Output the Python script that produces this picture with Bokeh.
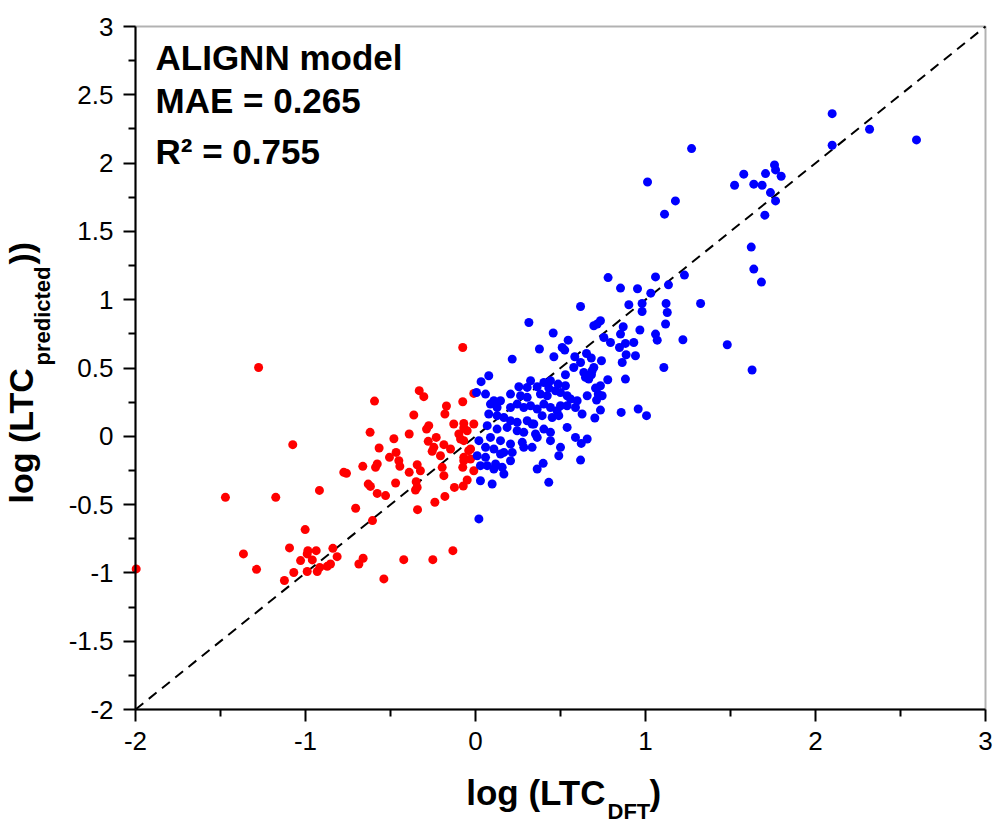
import math
from bokeh.plotting import figure
from bokeh.models import FixedTicker, Label, BoxAnnotation
from bokeh.embed import file_html
from bokeh.resources import INLINE

# ---------------- data ----------------
red_x = [-0.075, -1.276, -0.594, -0.331, -0.304, -0.075, -0.171, -0.18, -0.363, -0.128,
         -0.069, -0.01, -0.288, -0.275, -0.62, -0.39, -0.48, -1.075, -0.231, -0.278,
         -0.245, -0.255, -0.186, -0.147, -0.206, -0.098, -0.088, -0.049, -0.069, -0.029,
         -0.567, -0.467, -0.506, -0.451, -0.445, -0.343, -0.324, -0.39, -0.663, -0.578,
         -0.588, -0.775, -0.759, -0.196, -0.186, -0.075, -0.069, -0.029, -0.01, -0.049,
         -0.631, -0.618, -0.47, -0.349, -0.343, -0.353, -0.072, -0.124, -0.578, -0.529,
         -0.918, -0.18, -0.239, -1.471, -1.175, -0.705, -0.341, -0.606, -1.002, -1.094,
         -1.365, -0.986, -0.937, -1.029, -0.96, -0.99, -0.839, -0.814, -0.853, -0.872,
         -0.916, -0.931, -0.99, -1.069, -1.288, -1.996, -1.124, -0.686, -0.661, -0.422,
         -0.251, -0.133, -0.539, -0.01, -0.069, -0.04, -0.069]
red_y = [0.65, 0.504, 0.258, 0.334, 0.29, 0.253, 0.222, 0.163, 0.156, 0.09,
         0.094, 0.09, 0.053, 0.078, 0.029, 0.017, -0.018, -0.061, -0.008, -0.037,
         -0.081, -0.11, -0.061, -0.093, -0.142, 0.017, -0.02, 0.041, 0.061, -0.093,
         -0.086, -0.118, -0.154, -0.179, -0.22, -0.208, -0.252, -0.264, -0.22, -0.203,
         -0.227, -0.264, -0.271, -0.227, -0.288, -0.227, -0.179, -0.166, -0.252, -0.32,
         -0.35, -0.367, -0.342, -0.332, -0.374, -0.393, -0.364, -0.374, -0.418, -0.434,
         -0.396, -0.44, -0.483, -0.447, -0.447, -0.527, -0.537, -0.617, -0.683, -0.817,
         -0.861, -0.837, -0.837, -0.91, -0.905, -0.861, -0.82, -0.881, -0.935, -0.952,
         -0.96, -0.99, -0.99, -0.997, -0.974, -0.971, -1.056, -0.935, -0.893, -0.903,
         -0.903, -0.837, -1.044, 0.314, -0.032, -0.105, -0.154]

blue_x = [0.618, 0.902, 0.98, 1.121, 1.324, 0.98, 1.128, 0.314, 0.696, 0.735,
          0.716, 0.869, 0.853, 0.967, 1.118, 1.059, 1.069, 1.22, 0.457, 0.545,
          0.376, 0.755, 0.794, 0.847, 0.882, 0.931, 0.51, 0.525, 0.216, 0.461,
          0.584, 0.653, 0.618, 0.681, 0.741, 0.696, 0.686, 0.886, 0.941, 0.863,
          1.108, 0.578, 0.637, 0.647, 0.666, 0.682, 0.529, 0.078, 0.033, 0.324,
          0.402, 0.441, 0.778, 0.882, 0.706, 0.735, 0.722, 0.745, 0.255, 0.206,
          0.304, 0.363, 0.431, 0.486, 0.529, 0.006, 0.059, 0.265, 0.304, 0.382,
          0.422, 0.471, 0.5, 0.539, 0.559, 0.598, 0.539, 0.588, 0.657, 0.712,
          0.088, 0.127, 0.108, 0.147, 0.206, 0.245, 0.284, 0.324, 0.363, 0.402,
          0.441, 0.48, 0.5, 0.735, 0.857, 0.957, 1.006, 0.627, 0.702, 0.078,
          0.127, 0.167, 0.206, 0.245, 0.304, 0.333, 0.392, 0.451, 0.49, 0.069,
          0.127, 0.186, 0.245, 0.284, 0.343, 0.402, 0.539, 0.02, 0.088, 0.147,
          0.206, 0.275, 0.353, 0.363, 0.441, 0.441, 0.588, 0.657, 0.622, 0.059,
          0.108, 0.167, 0.216, 0.284, 0.333, 0.5, 0.01, 0.059, 0.147, 0.206,
          0.49, 0.618, 0.029, 0.069, 0.118, 0.157, 0.167, 0.108, 0.363, 0.398,
          0.029, 0.098, 0.431, 0.02,
          2.098, 2.318, 2.594, 2.098, 1.271, 1.759, 1.765, 1.706, 1.798, 1.578,
          1.637, 1.686, 1.524, 1.735, 1.765, 1.702, 1.012, 1.176, 1.112, 1.622,
          1.637, 1.682, 0.78, 1.059, 1.229, 0.853, 0.953, 1.135, 1.031, 1.481,
          1.627]
blue_y = [0.95, 0.963, 0.972, 0.972, 0.972, 0.914, 0.906, 0.833, 0.809, 0.846,
          0.822, 0.802, 0.748, 0.778, 0.822, 0.748, 0.704, 0.707, 0.756, 0.704,
          0.639, 0.723, 0.687, 0.65, 0.68, 0.687, 0.65, 0.631, 0.565, 0.582,
          0.582, 0.606, 0.54, 0.573, 0.553, 0.504, 0.48, 0.597, 0.59, 0.54,
          0.504, 0.504, 0.467, 0.431, 0.419, 0.451, 0.451, 0.443, 0.4, 0.407,
          0.394, 0.407, 0.414, 0.419, 0.353, 0.37, 0.309, 0.297, 0.363, 0.309,
          0.358, 0.363, 0.353, 0.382, 0.37, 0.321, 0.309, 0.297, 0.285, 0.309,
          0.297, 0.333, 0.321, 0.297, 0.273, 0.26, 0.224, 0.211, 0.297, 0.265,
          0.236, 0.211, 0.26, 0.26, 0.211, 0.236, 0.211, 0.224, 0.2, 0.236,
          0.211, 0.187, 0.224, 0.192, 0.175, 0.2, 0.151, 0.163, 0.134, 0.163,
          0.151, 0.138, 0.114, 0.102, 0.114, 0.09, 0.151, 0.138, 0.151, 0.078,
          0.053, 0.065, 0.041, 0.029, 0.09, 0.053, 0.065, -0.032, -0.008, -0.032,
          -0.056, -0.044, 0.017, -0.008, 0.029, -0.032, -0.008, -0.02, -0.052, -0.081,
          -0.093, -0.118, -0.118, -0.081, -0.081, -0.081, -0.142, -0.154, -0.13, -0.179,
          -0.142, -0.174, -0.215, -0.215, -0.203, -0.227, -0.276, -0.239, -0.239, -0.198,
          -0.325, -0.349, -0.337, -0.605,
          2.362, 2.248, 2.17, 2.131, 2.106, 1.987, 1.95, 1.923, 1.904, 1.919,
          1.846, 1.838, 1.838, 1.784, 1.723, 1.619, 1.862, 1.723, 1.626, 1.385,
          1.224, 1.129, 1.162, 1.167, 1.18, 1.085, 1.08, 1.109, 1.048, 0.67,
          0.485]

diag_x = [-2, 3]
diag_y = [-2, 3]

x_ticks = [-2, -1, 0, 1, 2, 3]
x_tick_labels = ["-2", "-1", "0", "1", "2", "3"]
x_minor = [-1.5, -0.5, 0.5, 1.5, 2.5]
y_ticks = [-2, -1.5, -1, -0.5, 0, 0.5, 1, 1.5, 2, 2.5, 3]
y_tick_labels = ["-2", "-1.5", "-1", "-0.5", "0", "0.5", "1", "1.5", "2", "2.5", "3"]
y_minor = [-1.75, -1.25, -0.75, -0.25, 0.25, 0.75, 1.25, 1.75, 2.25, 2.75]

info_lines = ["ALIGNN model", "MAE = 0.265", "R\u00b2 = 0.755"]

FONT = "Liberation Sans"

# The frame fills the whole canvas; the axes are drawn at fixed data locations
# so that the axis titles (Labels) lie inside the frame and are not clipped.
W, H = 996, 823
X0_PX, X1_PX = 135.0, 985.0   # screen x of data -2 and 3
Y0_PX, Y1_PX = 709.0, 26.0    # screen y of data -2 and 3
sx = (X1_PX - X0_PX) / 5.0
sy = (Y0_PX - Y1_PX) / 5.0
x_lo = -2 - X0_PX / sx
x_hi = 3 + (W - X1_PX) / sx
y_hi = 3 + Y1_PX / sy
y_lo = -2 - (H - Y0_PX) / sy


def dx(px):
    return -2 + (px - X0_PX) / sx


def dy(py):
    return 3 - (py - Y1_PX) / sy


p = figure(width=W, height=H, x_range=(x_lo, x_hi), y_range=(y_lo, y_hi),
           output_backend="svg", toolbar_location=None,
           min_border_left=0, min_border_right=0, min_border_top=0,
           min_border_bottom=0)
p.background_fill_color = "white"
p.border_fill_color = "white"
p.xgrid.visible = False
p.ygrid.visible = False
p.outline_line_color = None

p.line(diag_x, diag_y, line_color="black", line_width=2, line_dash="10 7")
p.scatter(red_x, red_y, size=9, fill_color="#FF0000", line_color=None)
p.scatter(blue_x, blue_y, size=9, fill_color="#0000FF", line_color=None)

# plot box (top and right spines)
p.add_layout(BoxAnnotation(left=-2, right=3, bottom=-2, top=3, fill_alpha=0,
                           line_color="black", line_width=2))

p.xaxis.ticker = FixedTicker(ticks=x_ticks, minor_ticks=x_minor)
p.yaxis.ticker = FixedTicker(ticks=y_ticks, minor_ticks=y_minor)
p.xaxis.major_label_overrides = {t: s for t, s in zip(x_ticks, x_tick_labels)}
p.yaxis.major_label_overrides = {t: s for t, s in zip(y_ticks, y_tick_labels)}
p.xaxis.fixed_location = -2
p.yaxis.fixed_location = -2
p.xaxis.bounds = (-2, 3)
p.yaxis.bounds = (-2, 3)
for ax in (p.xaxis, p.yaxis):
    ax.axis_line_width = 2
    ax.axis_line_color = "black"
    ax.major_tick_line_width = 2
    ax.minor_tick_line_width = 2
    ax.major_tick_line_color = "black"
    ax.minor_tick_line_color = "black"
    ax.major_tick_in = 0
    ax.major_tick_out = 12
    ax.minor_tick_in = 0
    ax.minor_tick_out = 7
    ax.major_label_text_font = FONT
    ax.major_label_text_font_size = "26px"
    ax.major_label_text_color = "black"
    ax.major_label_standoff = 10

BASE_SHIFT = 0.386  # rendered baseline sits this many font-sizes below the anchor


def lab(px, py, text, size, align="left", rotated=False):
    shift = BASE_SHIFT * size
    if rotated:
        x, y, ang = dx(px - shift), dy(py), math.pi / 2
    else:
        x, y, ang = dx(px), dy(py - shift), 0.0
    p.add_layout(Label(x=x, y=y, text=text, angle=ang, text_font=FONT,
                       text_font_style="bold", text_font_size=f"{size}px",
                       text_align=align, text_baseline="alphabetic",
                       text_color="black"))


# info text in top-left
for txt, base in zip(info_lines, [71, 114, 165]):
    lab(155, base, txt, 35)

# x axis title: log (LTC_DFT)
lab(605, 806, "log (LTC", 35, align="right")
lab(607, 819, "DFT", 22)
lab(649, 806, ")", 35)

# y axis title: log (LTC_predicted))
lab(34, 503, "log (LTC", 34, rotated=True)
lab(50, 365, "predicted", 22, rotated=True)
lab(34, 264, "))", 34, rotated=True)

open("out.html", "w").write(file_html(p, INLINE))
